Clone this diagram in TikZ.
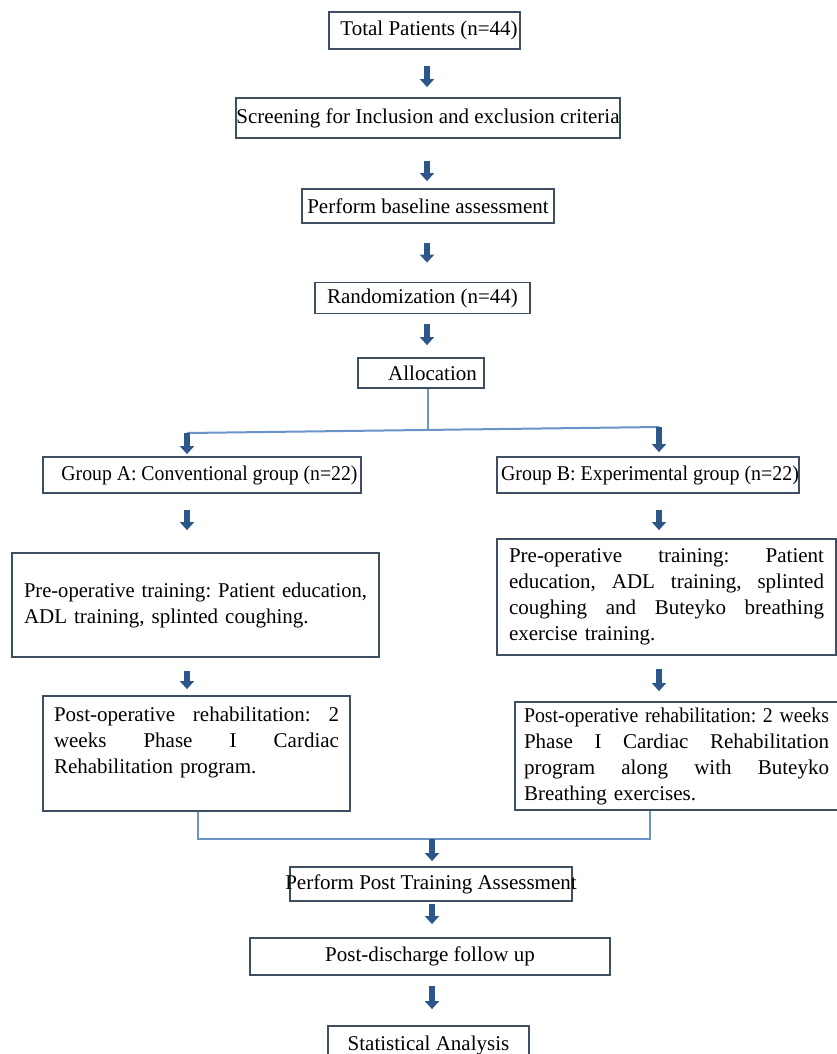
\documentclass[tikz,border=0pt]{standalone}
\usepackage{fontspec}
\setmainfont{Liberation Serif}
\usetikzlibrary{arrows.meta}
\definecolor{boxc}{HTML}{3F4E60}
\definecolor{arrc}{HTML}{2D5788}
\definecolor{linec}{HTML}{6A93C8}
\newcommand\myjust[2]{\makebox[#1][s]{\spaceskip=0pt\relax\xspaceskip=0pt\relax#2}}
\newcommand\mysqueeze[2]{\resizebox{#1}{\height}{#2}}
\frenchspacing
\begin{document}
\begin{tikzpicture}[x=1pt,y=-1pt,
 box/.style={draw=boxc,line width=1.8pt,inner sep=0pt,rectangle,font=\fontsize{21}{26}\selectfont},
 para/.style={box,align=left},
 arr/.style={draw=arrc,line width=5.5pt,-{Triangle[width=14pt,length=8pt]}},
 conn/.style={draw=linec,line width=2pt}]
\useasboundingbox (0,0) rectangle (837,1054);
\clip (0,0) rectangle (837,1054);
\fill[white] (0,0) rectangle (837,1054);

% boxes
\node[box,minimum width=191pt,minimum height=37pt] (tot) at (424.5,30.5) {\makebox[0pt]{\hspace{9pt}Total Patients (n=44)}};
\node[box,minimum width=384pt,minimum height=40pt] (scr) at (428,118) {\makebox[0pt]{Screening for Inclusion and exclusion criteria}};
\node[box,minimum width=252pt,minimum height=34pt] (base) at (428,206) {\makebox[0pt]{Perform baseline assessment}};
\node[box,minimum width=215pt,minimum height=31pt] (rand) at (422.5,298) {\makebox[0pt]{Randomization (n=44)}};
\node[box,minimum width=126pt,minimum height=30pt] (alloc) at (421,373) {\makebox[0pt]{\hspace{23pt}Allocation}};
\node[box,minimum width=318pt,minimum height=36pt] (ga) at (202,475) {\makebox[0pt]{\hspace{15pt}\mysqueeze{296pt}{Group A: Conventional group (n=22)}}};
\node[box,minimum width=302pt,minimum height=36pt] (gb) at (648,475) {\makebox[0pt]{\hspace{4pt}\mysqueeze{298pt}{Group B: Experimental group (n=22)}}};

\node[para,minimum width=367pt,minimum height=104pt,text width=343pt] (pa) at (195.5,605)
 {\mysqueeze{343pt}{Pre-operative training: Patient education,}\\ ADL training, splinted coughing.};
\node[para,minimum width=339pt,minimum height=116pt,text width=315pt] (pb) at (666.5,597)
 {\myjust{315pt}{Pre-operative training: Patient}\\
  \myjust{315pt}{education, ADL training, splinted}\\
  \myjust{315pt}{coughing and Buteyko breathing}\\
  exercise training.};
\node[para,minimum width=307pt,minimum height=115pt,text width=285pt] (qa) at (196.5,753.5)
 {\myjust{285pt}{Post-operative rehabilitation: 2}\\
  \myjust{285pt}{weeks Phase I Cardiac}\\
  Rehabilitation program.\\ \mbox{}};
\node[para,minimum width=323pt,minimum height=108pt,text width=305pt] (qb) at (676.5,756)
 {\mysqueeze{305pt}{Post-operative rehabilitation: 2 weeks}\\
  \myjust{305pt}{Phase I Cardiac Rehabilitation}\\
  \myjust{305pt}{program along with Buteyko}\\
  Breathing exercises.};

\node[box,minimum width=282pt,minimum height=34pt] (post) at (431,884) {\makebox[0pt]{Perform Post Training Assessment}};
\node[box,minimum width=360pt,minimum height=37pt] (fol) at (430,956.5) {\makebox[0pt]{Post-discharge follow up}};
\node[box,minimum width=201pt,minimum height=38pt] (stat) at (428.5,1045) {\makebox[0pt]{Statistical Analysis}};

% helper coordinates
\coordinate (ax) at (427,0);
\coordinate (lx) at (187,0);
\coordinate (rx) at (659,0);
\coordinate (bx) at (432,0);
\coordinate (j0) at (428,431.4);
\coordinate (jl) at (187,433);
\coordinate (jr) at (659,427);
\coordinate (ml) at (198,839);
\coordinate (mr) at (650,839);
\coordinate (mc) at (432,839);

% top arrows
\draw[arr,shorten <=16pt,shorten >=10pt] (tot.south -| ax) -- (scr.north -| ax);
\draw[arr,shorten <=22pt,shorten >=7pt] (scr.south -| ax) -- (base.north -| ax);
\draw[arr,shorten <=19pt,shorten >=19pt] (base.south -| ax) -- (rand.north -| ax);
\draw[arr,shorten <=10pt,shorten >=12pt] (rand.south -| ax) -- (alloc.north -| ax);

% allocation split
\draw[conn] (alloc.south -| j0) -- (j0);
\draw[conn] (jl) -- (jr);
\draw[arr,shorten >=2pt] (jl) -- (ga.north -| jl);
\draw[arr,shorten >=4pt] (jr) -- (gb.north -| jr);

% group arrows
\draw[arr,shorten <=16pt,shorten >=22pt] (ga.south -| lx) -- (pa.north -| lx);
\draw[arr,shorten <=16pt,shorten >=8pt] (gb.south -| rx) -- (pb.north -| rx);
\draw[arr,shorten <=13pt,shorten >=6pt] (pa.south -| lx) -- (qa.north -| lx);
\draw[arr,shorten <=13pt,shorten >=10pt] (pb.south -| rx) -- (qb.north -| rx);

% merge
\draw[conn] (qa.south -| ml) -- (ml) -- (mr) -- (qb.south -| mr);
\draw[arr,shorten >=5pt] (mc) -- (post.north -| mc);
\draw[arr,shorten <=2pt,shorten >=13pt] (post.south -| bx) -- (fol.north -| bx);
\draw[arr,shorten <=10pt,shorten >=16pt] (fol.south -| bx) -- (stat.north -| bx);
\end{tikzpicture}
\end{document}
